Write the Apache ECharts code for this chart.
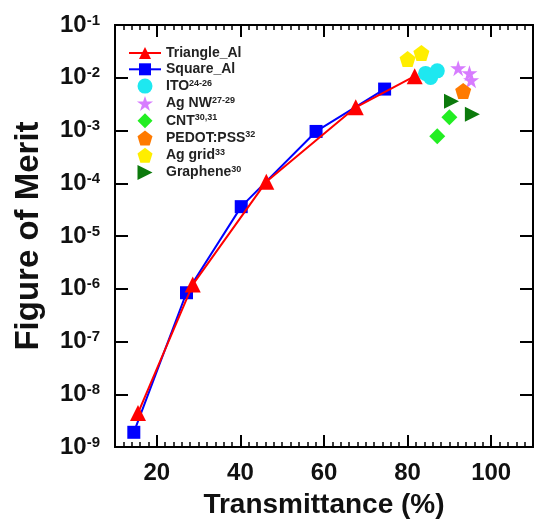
<!DOCTYPE html>
<html>
<head>
<meta charset="utf-8">
<script src="https://cdn.jsdelivr.net/npm/echarts@6/dist/echarts.min.js"></script>
<style>
  html, body { margin: 0; padding: 0; background: #fff; }
  #chart { width: 535px; height: 520px; }
</style>
</head>
<body>
<div id="chart"></div>
<script>
// values
var triX = [15.5, 28.6, 46.2, 67.6, 81.7];
var triY = [4.4e-9, 1.2e-6, 1.07e-4, 2.75e-3, 1.07e-2];
var sqX = [14.5, 27.1, 40.2, 58.1, 74.5];
var sqY = [1.9e-9, 8.4e-7, 3.6e-5, 9.6e-4, 6.1e-3];
var itoX = [84.3, 85.5, 87.1];
var itoY = [1.21e-2, 1.01e-2, 1.35e-2];
var agnwX = [92.1, 94.8, 95.2];
var agnwY = [1.52e-2, 1.22e-2, 9.0e-3];
var cntX = [90.0, 87.1];
var cntY = [1.78e-3, 7.8e-4];
var pedotX = [93.3];
var pedotY = [5.6e-3];
var aggridX = [80.0, 83.3];
var aggridY = [2.26e-2, 2.95e-2];
var grapheneX = [90.5, 95.5];
var grapheneY = [3.6e-3, 2.04e-3];
var xLabels = [20, 40, 60, 80, 100];
var legendRefs = {
    "Triangle_Al": "", "Square_Al": "", "ITO": "24-26", "Ag NW": "27-29",
    "CNT": "30,31", "PEDOT:PSS": "32", "Ag grid": "33", "Graphene": "30"
};

var FONT = "'Liberation Sans', Arial, sans-serif";
var STAR = "path://M50,0 L61.8,35.3 L100,35.3 L69.1,57.1 L80.9,93 L50,71 L19.1,93 L30.9,57.1 L0,35.3 L38.2,35.3 Z";
var PENTA = "path://M50,0 L100,38 L81,100 L19,100 L0,38 Z";
var RTRI = "path://M0,0 L100,50 L0,100 Z";
var DIAM = "path://M50,0 L100,50 L50,100 L0,50 Z";

function zip(xs, ys) {
    return xs.map(function (x, i) { return [x, ys[i]]; });
}

var chart = echarts.init(document.getElementById("chart"));

var gridRect = { left: 115, right: 2, top: 25, bottom: 73, outerBoundsMode: "none", containLabel: false };
var axisLine = { show: true, onZero: false, lineStyle: { color: "#000", width: 2 } };

function scat(name, xs, ys, symbol, size, color) {
    return {
        name: name, type: "scatter", xAxisIndex: 0, yAxisIndex: 0,
        symbol: symbol, symbolSize: size, data: zip(xs, ys),
        itemStyle: { color: color, opacity: 1 }, z: 3
    };
}

var option = {
    backgroundColor: "#fff",
    animation: false,
    grid: [
        Object.assign({}, gridRect),
        Object.assign({}, gridRect)
    ],
    xAxis: [
        // grid 0: fine ticks every 2
        {
            gridIndex: 0, type: "value", position: "bottom", min: 10, max: 110, interval: 2,
            axisLine: axisLine, axisTick: { inside: true, length: 5, lineStyle: { color: "#000", width: 1.5 } },
            axisLabel: { show: false }, splitLine: { show: false }
        },
        {
            gridIndex: 0, type: "value", position: "top", min: 10, max: 110, interval: 2,
            axisLine: axisLine, axisTick: { inside: true, length: 5, lineStyle: { color: "#000", width: 1.5 } },
            axisLabel: { show: false }, splitLine: { show: false }
        },
        // grid 1: major ticks + labels
        {
            gridIndex: 1, type: "value", position: "bottom", min: 10, max: 110, interval: 10,
            axisLine: axisLine,
            axisTick: { inside: true, length: 12, customValues: xLabels, lineStyle: { color: "#000", width: 2 } },
            axisLabel: {
                customValues: xLabels, margin: 14, color: "#111",
                fontSize: 24, fontWeight: "bold", fontFamily: FONT
            },
            splitLine: { show: false },
            name: "Transmittance (%)", nameLocation: "middle", nameGap: 44,
            nameTextStyle: { fontSize: 28, fontWeight: "bold", fontFamily: FONT, color: "#111" }
        },
        {
            gridIndex: 1, type: "value", position: "top", min: 10, max: 110, interval: 10,
            axisLine: axisLine,
            axisTick: { inside: true, length: 12, customValues: xLabels, lineStyle: { color: "#000", width: 2 } },
            axisLabel: { show: false }, splitLine: { show: false }
        }
    ],
    yAxis: [
        {
            gridIndex: 0, type: "log", logBase: 10, min: 1e-9, max: 0.1, position: "left",
            axisLine: axisLine,
            axisTick: { inside: true, length: 13, lineStyle: { color: "#000", width: 2 } },
            minorTick: { show: false },
            axisLabel: {
                margin: 15, color: "#111",
                formatter: function (v) {
                    return "{b|10}{s|" + Math.round(Math.log10(v)) + "}";
                },
                rich: {
                    b: { fontSize: 24, fontWeight: "bold", fontFamily: FONT, color: "#111", lineHeight: 24 },
                    s: { fontSize: 15, fontWeight: "bold", fontFamily: FONT, color: "#111", verticalAlign: "top" }
                }
            },
            splitLine: { show: false },
            name: "Figure of Merit", nameLocation: "middle", nameGap: 70,
            nameTextStyle: { fontSize: 33, fontWeight: "bold", fontFamily: FONT, color: "#111" }
        },
        {
            gridIndex: 0, type: "log", logBase: 10, min: 1e-9, max: 0.1, position: "right",
            axisLine: axisLine,
            axisTick: { inside: true, length: 13, lineStyle: { color: "#000", width: 2 } },
            minorTick: { show: false },
            axisLabel: { show: false }, splitLine: { show: false }
        },
        {
            gridIndex: 1, type: "log", logBase: 10, min: 1e-9, max: 0.1,
            show: false
        }
    ],
    legend: {
        orient: "vertical", left: 123, top: 41,
        itemWidth: 32, itemHeight: 15, itemGap: 2.3,
        data: ["Triangle_Al", "Square_Al", "ITO", "Ag NW", "CNT", "PEDOT:PSS", "Ag grid", "Graphene"],
        formatter: function (name) {
            var r = legendRefs[name];
            return "{n|" + name + "}" + (r ? "{s|" + r + "}" : "");
        },
        textStyle: {
            rich: {
                n: { fontSize: 14, fontWeight: "bold", fontFamily: FONT, color: "#222", lineHeight: 15 },
                s: { fontSize: 9, fontWeight: "bold", fontFamily: FONT, color: "#222", verticalAlign: "top" }
            }
        }
    },
    series: [
        {
            name: "Triangle_Al", type: "line", xAxisIndex: 0, yAxisIndex: 0,
            symbol: "triangle", symbolSize: 16, data: zip(triX, triY),
            lineStyle: { color: "#ff0000", width: 2 }, itemStyle: { color: "#ff0000" }, z: 4
        },
        {
            name: "Square_Al", type: "line", xAxisIndex: 0, yAxisIndex: 0,
            symbol: "rect", symbolSize: 13, data: zip(sqX, sqY),
            lineStyle: { color: "#0000ff", width: 2 }, itemStyle: { color: "#0000ff" }, z: 3
        },
        scat("ITO", itoX, itoY, "circle", 15, "#1ee8f0"),
        scat("Ag NW", agnwX, agnwY, STAR, 16, "#d77cff"),
        scat("CNT", cntX, cntY, DIAM, 16, "#22ee22"),
        scat("PEDOT:PSS", pedotX, pedotY, PENTA, 16, "#ff7a00"),
        scat("Ag grid", aggridX, aggridY, PENTA, 16, "#ffee00"),
        scat("Graphene", grapheneX, grapheneY, RTRI, 15, "#0c7a0c")
    ]
};

chart.setOption(option);
</script>
</body>
</html>
